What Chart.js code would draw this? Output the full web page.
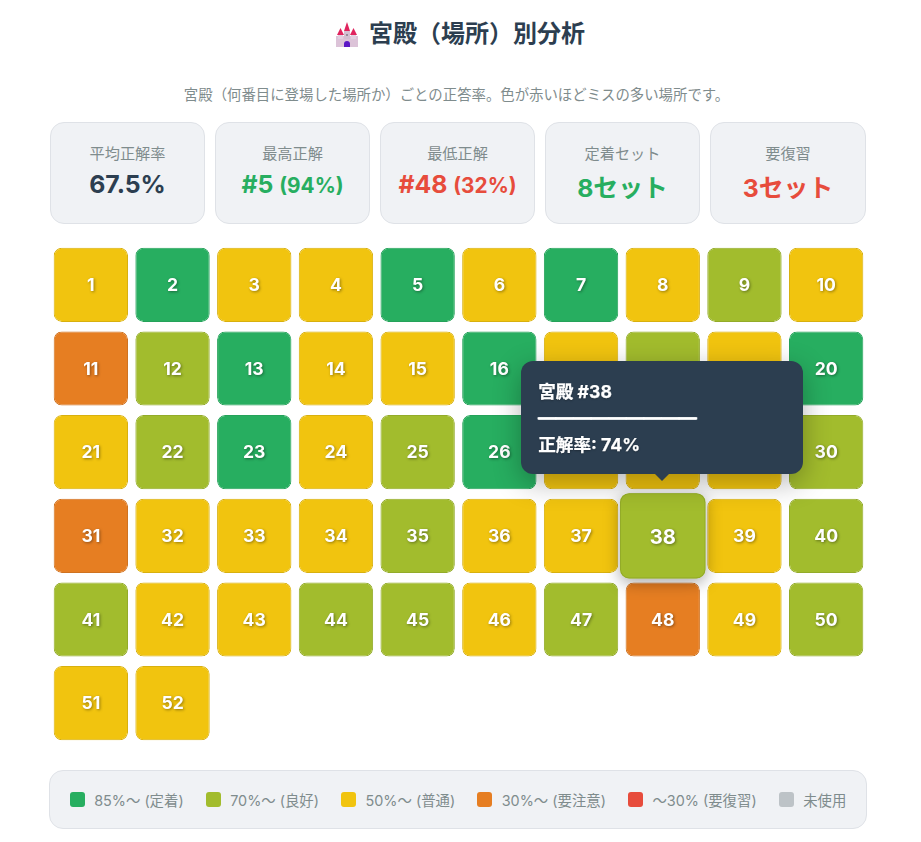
<!DOCTYPE html>
<html lang="ja">
<head>
<meta charset="utf-8">
<title>宮殿（場所）別分析</title>
<script src="https://cdn.jsdelivr.net/npm/chart.js@4"></script>
<style>
  html, body { margin: 0; padding: 0; background: #fff; }
  body {
    position: relative; width: 921px; height: 842px; overflow: hidden;
    font-family: Inter, "Noto Sans CJK JP", sans-serif; color: #2c3e50;
  }
  h2 {
    position: absolute; left: 369px; top: 16px; margin: 0; white-space: nowrap;
    font-size: 24px; line-height: 36px; font-weight: 700;
  }
  #castle { position: absolute; left: 335px; top: 22px; width: 24px; height: 25px; }
  .desc {
    position: absolute; left: 0; top: 85px; width: 913px; margin: 0;
    text-align: center; font-size: 14.4px; line-height: 20px; color: #7f8c8d;
  }
  .card {
    position: absolute; top: 122px; height: 100px; box-sizing: content-box;
    background: #f0f2f5; border: 1px solid #dfe2e7; border-radius: 14px; text-align: center;
  }
  .card .label { position: absolute; left: 0; right: 0; top: 20.5px; font-size: 15.2px; line-height: 20px; color: #7f8c8d; }
  .card .value { position: absolute; left: 0; right: 0; top: 43px; font-size: 24.8px; line-height: 36px; font-weight: 700; }
  .card .value.jp { top: 47px; }
  .card .value small { font-size: 20.8px; font-weight: 700; }
  #chart-wrap { position: absolute; left: 49.7px; top: 243px; width: 817px; height: 502px; }
  #legend {
    position: absolute; left: 49px; top: 770px; width: 816px; height: 57px;
    background: #f0f2f5; border: 1px solid #dfe2e7; border-radius: 14px;
    display: flex; align-items: center; justify-content: center; gap: 22px;
    font-size: 14.4px; color: #7f8c8d;
  }
  #legend .item { display: flex; align-items: center; gap: 9.5px; }
  #legend i { display: block; width: 15px; height: 15px; border-radius: 3px; }
  #tip {
    position: absolute; width: 282px; height: 113px; box-sizing: border-box; padding: 18px 17px 0;
    background: #2c3e50; border-radius: 12px; color: #fff; font-size: 17.6px; line-height: 26.5px; font-weight: 700;
    -webkit-text-stroke: 0.25px #fff;
    box-shadow: 0 8px 28px rgba(0, 0, 0, .3); text-shadow: 0 1px 2px rgba(0, 0, 0, .3); display: none;
  }
  #tip::after {
    content: ""; position: absolute; left: 134px; bottom: -7px;
    border: 7px solid transparent; border-bottom: 0; border-top-color: #2c3e50;
  }
  #tip div { white-space: nowrap; }
  #tip div:nth-child(2) {
    -webkit-text-stroke: 1.3px #fff; font-family: "Noto Sans CJK JP", sans-serif;
    text-shadow: 0 1px 0 #fff, 0 -1px 0 #fff;
  }
</style>
</head>
<body>
<svg id="castle" viewBox="0 0 24 25" role="img" aria-label="🏰">
  <rect x="1" y="14" width="22" height="11" fill="#dcc3d8"/>
  <rect x="3" y="11" width="5" height="6" fill="#e3cfe0"/>
  <rect x="16" y="11" width="5" height="6" fill="#e3cfe0"/>
  <rect x="9" y="9" width="6" height="8" fill="#d4bfd2"/>
  <polygon points="12,0 15,9 9,9" fill="#e0245e"/>
  <polygon points="5.5,6 9,13 2,13" fill="#e0245e"/>
  <polygon points="18.5,6 22,13 15,13" fill="#e0245e"/>
  <path d="M9 25v-3a3 3 0 0 1 6 0v3z" fill="#5c16c5"/>
  <circle cx="12" cy="13" r="1" fill="#8a7a8a"/>
</svg>
<h2>宮殿（場所）別分析</h2>
<p class="desc">宮殿（何番目に登場した場所か）ごとの正答率。色が赤いほどミスの多い場所です。</p>
<div id="cards"></div>
<div id="chart-wrap"><canvas id="palaceChart" width="817" height="502"></canvas></div>
<div id="tip"></div>
<div id="legend"></div>

<script>
const palaceRates = [
  62, 88, 58, 60, 94, 64, 90, 57, 76, 61,
  38, 73, 87, 55, 59, 89, 63, 75, 60, 91,
  66, 72, 86, 56, 78, 88, 62, 58, 65, 74,
  36, 61, 54, 63, 77, 59, 68, 74, 57, 72,
  75, 60, 64, 79, 71, 58, 76, 32, 66, 73,
  55, 62
];
const columnLabels = ['1', '2', '3', '4', '5', '6', '7', '8', '9', '10'];
const rowCount = 6;
const hoveredPalace = 38;

const tierMins = [85, 70, 50, 30, 0];
const tierColors = ['#27ae60', '#a2bc2d', '#f1c40f', '#e67e22', '#e74c3c'];
const tierBorders = ['#25a25a', '#93ab29', '#d8b00e', '#cf7220', '#d04436'];

const legendLabels = ['85%〜 (定着)', '70%〜 (良好)', '50%〜 (普通)', '30%〜 (要注意)', '〜30% (要復習)', '未使用'];
const legendColors = ['#27ae60', '#a2bc2d', '#f1c40f', '#e67e22', '#e74c3c', '#bdc3c7'];

const statLabels = ['平均正解率', '最高正解', '最低正解', '定着セット', '要復習'];
const statValues = ['67.5%', '#5 <small>(94%)</small>', '#48 <small>(32%)</small>', '8セット', '3セット'];
const statColors = ['#2c3e50', '#27ae60', '#e74c3c', '#27ae60', '#e74c3c'];

function tierOf(rate) {
  return tierMins.findIndex(min => rate >= min);
}

// Summary cards
const cardLefts = [50, 215, 380, 545, 710];
const cardWidths = [153, 153, 153, 153, 154];
statLabels.forEach((label, i) => {
  const card = document.createElement('div');
  card.className = 'card';
  card.style.left = cardLefts[i] + 'px';
  card.style.width = cardWidths[i] + 'px';
  const jp = statValues[i].includes('セット') ? ' jp' : '';
  card.innerHTML = `<div class="label">${label}</div><div class="value${jp}" style="color:${statColors[i]}">${statValues[i]}</div>`;
  document.getElementById('cards').appendChild(card);
});

// Legend
legendLabels.forEach((label, i) => {
  const item = document.createElement('div');
  item.className = 'item';
  item.innerHTML = `<i style="background:${legendColors[i]}"></i><span>${label}</span>`;
  document.getElementById('legend').appendChild(item);
});

// One floating bar per palace, laid out column by column on a reversed row scale
const rowInset = 0.057;
const cells = palaceRates.map((rate, i) => {
  const row = Math.floor(i / columnLabels.length);
  return { x: columnLabels[i % columnLabels.length], y: [row + rowInset, row + 1 - rowInset] };
});
const fills = palaceRates.map(rate => tierColors[tierOf(rate)]);
const borders = palaceRates.map(rate => tierBorders[tierOf(rate)]);

function drawNumber(ctx, el, index, size, dy) {
  const c = el.getCenterPoint();
  ctx.save();
  ctx.font = `700 ${size}px Inter, "Noto Sans CJK JP", sans-serif`;
  ctx.textAlign = 'center';
  ctx.textBaseline = 'middle';
  ctx.fillStyle = '#fff';
  ctx.shadowColor = 'rgba(0, 0, 0, 0.4)';
  ctx.shadowOffsetX = 1;
  ctx.shadowOffsetY = 1;
  ctx.shadowBlur = 3;
  ctx.fillText(String(index + 1), c.x, c.y + dy);
  ctx.restore();
}

const cellNumbers = {
  id: 'cellNumbers',
  afterDatasetsDraw(chart) {
    const ctx = chart.ctx;
    const elements = chart.getDatasetMeta(0).data;
    elements.forEach((el, i) => {
      if (i !== hoveredPalace - 1) drawNumber(ctx, el, i, 17.6, 1);
    });

    // hovered cell: same bar, grown by 15%, with its shadow painted underneath first
    const el = elements[hoveredPalace - 1];
    const c = el.getCenterPoint();
    ctx.save();
    ctx.shadowColor = 'rgba(0, 0, 0, 0.35)';
    ctx.shadowBlur = 16;
    ctx.shadowOffsetY = 4;
    ctx.fillStyle = fills[hoveredPalace - 1];
    ctx.beginPath();
    ctx.roundRect(c.x - el.width * 0.575, c.y - el.height * 0.575, el.width * 1.15, el.height * 1.15, 9);
    ctx.fill();
    ctx.restore();

    ctx.save();
    ctx.translate(c.x, c.y);
    ctx.scale(1.15, 1.15);
    ctx.translate(-c.x, -c.y);
    el.draw(ctx);
    ctx.restore();
    drawNumber(ctx, el, hoveredPalace - 1, 20.2, 2);
  }
};

function externalTip(context) {
  const tip = document.getElementById('tip');
  const tooltip = context.tooltip;
  if (tooltip.opacity === 0) {
    tip.style.display = 'none';
    return;
  }
  const el = context.chart.getDatasetMeta(0).data[tooltip.dataPoints[0].dataIndex];
  const c = el.getCenterPoint();
  const wrap = context.chart.canvas.parentNode;
  const lines = tooltip.title.concat(tooltip.body.flatMap(b => b.lines));
  tip.innerHTML = lines.map(line => `<div>${line}</div>`).join('');
  tip.style.display = 'block';
  tip.style.left = (wrap.offsetLeft + c.x - 141.5) + 'px';
  tip.style.top = (wrap.offsetTop + c.y - 175) + 'px';
}

const chart = new Chart(document.getElementById('palaceChart').getContext('2d'), {
  type: 'bar',
  data: {
    labels: columnLabels,
    datasets: [{
      label: '正解率',
      data: cells,
      backgroundColor: fills,
      borderColor: borders,
      hoverBackgroundColor: fills,
      hoverBorderColor: borders,
      borderWidth: 1,
      hoverBorderWidth: 1,
      borderRadius: 8,
      borderSkipped: false,
      barPercentage: 0.91,
      categoryPercentage: 1
    }]
  },
  options: {
    responsive: false,
    animation: false,
    events: [],
    layout: { padding: 0 },
    scales: {
      x: { display: false, offset: true },
      y: { display: false, min: 0, max: rowCount, reverse: true }
    },
    plugins: {
      legend: { display: false },
      tooltip: {
        enabled: false,
        external: externalTip,
        callbacks: {
          title: items => `宮殿 #${items[0].dataIndex + 1}`,
          label: item => ['─────────', `正解率: ${palaceRates[item.dataIndex]}%`]
        }
      }
    }
  },
  plugins: [cellNumbers]
});

// Show the state from the picture: pointer resting on #38
const activeCell = [{ datasetIndex: 0, index: hoveredPalace - 1 }];
chart.setActiveElements(activeCell);
chart.tooltip.setActiveElements(activeCell, chart.getDatasetMeta(0).data[hoveredPalace - 1].getCenterPoint());
chart.update();
</script>
</body>
</html>
